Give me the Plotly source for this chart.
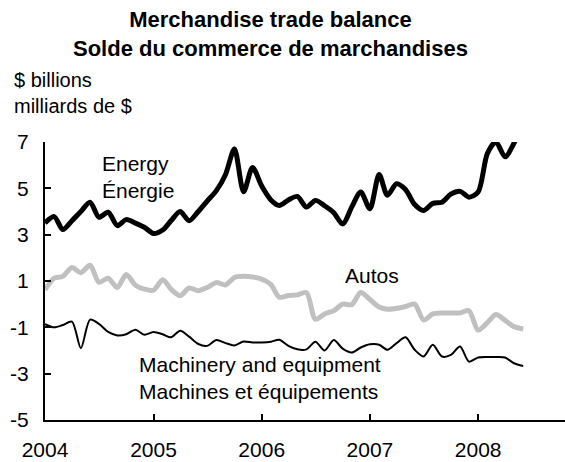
import plotly.graph_objects as go
import pandas as pd

months = pd.date_range("2004-01-01", periods=54, freq="MS").strftime("%Y-%m-%d").tolist()

energy = [3.5, 3.78, 3.22, 3.6, 4.0, 4.4, 3.75, 3.97, 3.39, 3.65, 3.5, 3.32,
          3.05, 3.2, 3.6, 4.0, 3.6, 4.0, 4.45, 4.9, 5.6, 6.7, 4.85, 5.9,
          5.1, 4.5, 4.26, 4.5, 4.65, 4.19, 4.48, 4.25, 3.95, 3.46, 4.2, 4.84,
          4.12, 5.6, 4.7, 5.2, 4.95, 4.3, 4.04, 4.35, 4.4, 4.75, 4.87, 4.62,
          4.84, 6.5, 7.0, 6.36, 6.95, 7.9]

autos = [0.62, 1.12, 1.2, 1.58, 1.36, 1.68, 0.95, 1.12, 0.72, 1.28, 0.82, 0.65,
         0.6, 1.05, 0.65, 0.36, 0.7, 0.58, 0.72, 0.93, 0.83, 1.15, 1.2, 1.17,
         1.08, 0.85, 0.3, 0.37, 0.4, 0.5, -0.65, -0.42, -0.28, 0.0, -0.02, 0.5,
         0.2, -0.12, -0.22, -0.18, -0.1, 0.0, -0.68, -0.42, -0.38, -0.38, -0.38, -0.28,
         -1.12, -0.8, -0.45, -0.7, -0.97, -1.07]

machinery = [-0.86, -1.0, -0.9, -0.75, -1.9, -0.67, -0.85, -1.2, -1.35, -1.3, -1.1, -1.32,
             -1.2, -1.3, -1.43, -1.15, -1.4, -1.72, -1.8, -1.55, -1.68, -1.78, -1.61, -1.65,
             -1.65, -1.62, -1.54, -1.8, -1.95, -1.95, -1.62, -2.0, -1.55, -1.92, -2.09, -1.87,
             -1.73, -1.75, -1.97, -1.68, -1.43, -1.97, -2.26, -1.75, -2.26, -2.19, -1.83, -2.48,
             -2.3, -2.28, -2.28, -2.3, -2.55, -2.67]

y_ticks = [-5, -3, -1, 1, 3, 5, 7]
y_labels = ["-5", "-3", "-1", "1", "3", "5", "7"]
x_ticks = ["2004-01-01", "2005-01-01", "2006-01-01", "2007-01-01", "2008-01-01"]
x_labels = ["2004", "2005", "2006", "2007", "2008"]

FONT = "Arial, Liberation Sans, sans-serif"

fig = go.Figure()
fig.add_trace(go.Scatter(x=months, y=autos, mode="lines",
                         line=dict(color="#c0c0c0", width=5, shape="spline", smoothing=0.8),
                         name="Autos"))
fig.add_trace(go.Scatter(x=months, y=machinery, mode="lines",
                         line=dict(color="black", width=2, shape="spline", smoothing=0.8),
                         name="Machinery"))
fig.add_trace(go.Scatter(x=months, y=energy, mode="lines",
                         line=dict(color="black", width=5, shape="spline", smoothing=0.8),
                         name="Energy"))

# plot area in page pixels: x 45..565, y 142..420
def px_x(p):
    return (p - 45) / 520.0

def px_y(p):
    return (420 - p) / 278.0

annotations = [
    dict(text="<b>Merchandise trade balance<br>Solde du commerce de marchandises</b>",
         x=px_x(270), y=px_y(34.5), font=dict(size=22, color="black", family=FONT)),
    dict(text="$ billions<br>milliards de $", x=px_x(12), y=px_y(93), xanchor="left",
         align="left", font=dict(size=20, color="black", family=FONT)),
    dict(text="Energy<br>Énergie", x=px_x(100), y=px_y(177), xanchor="left", align="left",
         font=dict(size=21, color="black", family=FONT)),
    dict(text="Autos", x=px_x(372), y=px_y(275), font=dict(size=21, color="black", family=FONT)),
    dict(text="Machinery and equipment<br>Machines et équipements", x=px_x(137), y=px_y(378),
         xanchor="left", align="left", font=dict(size=21, color="black", family=FONT)),
]
for a in annotations:
    a.update(xref="paper", yref="paper", showarrow=False)
    a.setdefault("xanchor", "center")
    a.setdefault("yanchor", "middle")

fig.update_layout(
    width=565, height=462,
    margin=dict(l=45, r=0, t=142, b=42),
    paper_bgcolor="white", plot_bgcolor="white",
    showlegend=False,
    font=dict(family=FONT, size=21, color="black"),
    annotations=annotations,
    xaxis=dict(range=["2004-01-01", "2008-10-20"], tickvals=x_ticks, ticktext=x_labels,
               ticks="inside", ticklen=6, tickwidth=2, tickcolor="black",
               showline=True, linewidth=2, linecolor="black", showgrid=False, zeroline=False,
               ticklabelstandoff=10, tickfont=dict(size=21)),
    yaxis=dict(range=[-5, 7], tickvals=y_ticks, ticktext=y_labels, ticks="inside", ticklen=6,
               tickwidth=2, tickcolor="black", showline=True, linewidth=2, linecolor="black",
               showgrid=False, zeroline=False, ticklabelstandoff=10, tickfont=dict(size=21)),
)

# remove the default 8px page margin so the figure fills the 565x462 window exactly
fig.write_html("out.html", config={"displayModeBar": False},
               post_script="document.body.style.margin='0';document.body.style.overflow='hidden';")
